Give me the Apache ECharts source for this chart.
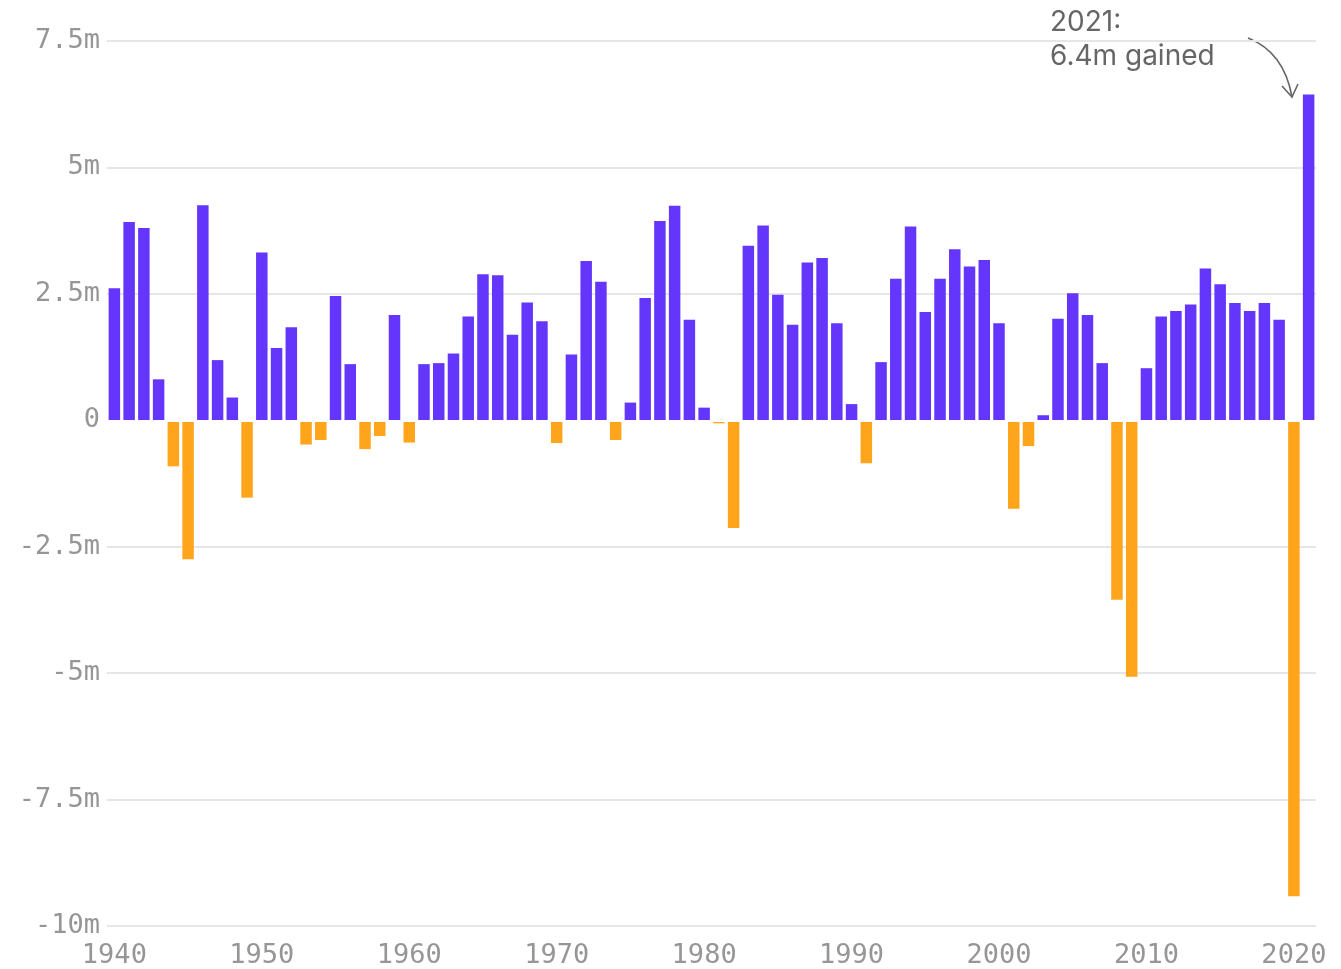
<!DOCTYPE html>
<html>
<head>
<meta charset="utf-8">
<style>
  html, body { margin: 0; padding: 0; background: #fff; }
  #chart { width: 1341px; height: 969px; }
</style>
<script src="https://cdn.jsdelivr.net/npm/echarts@6/dist/echarts.min.js"></script>
</head>
<body>
<div id="chart"></div>
<script>
// yearly change in jobs, millions
const years = [];
for (let y = 1940; y <= 2021; y++) years.push(String(y));

const jobChange = [
  2.61, 3.92, 3.80, 0.81, -0.91, -2.75, 4.25, 1.19, 0.45, -1.53,
  3.32, 1.43, 1.84, -0.48, -0.39, 2.46, 1.11, -0.57, -0.31, 2.08,
  -0.44, 1.11, 1.13, 1.32, 2.05, 2.89, 2.87, 1.69, 2.33, 1.96,
  -0.45, 1.30, 3.15, 2.74, -0.39, 0.35, 2.42, 3.94, 4.24, 1.99,
  0.25, -0.06, -2.13, 3.45, 3.85, 2.48, 1.89, 3.12, 3.21, 1.92,
  0.32, -0.85, 1.15, 2.80, 3.83, 2.14, 2.80, 3.38, 3.04, 3.17,
  1.92, -1.75, -0.51, 0.10, 2.01, 2.51, 2.08, 1.13, -3.55, -5.07,
  1.03, 2.05, 2.16, 2.29, 3.00, 2.69, 2.32, 2.16, 2.32, 1.99,
  -9.41, 6.44
];

const yTicks = { min: -10, max: 7.5, step: 2.5 };
const labelYears = ['1940', '1950', '1960', '1970', '1980', '1990', '2000', '2010', '2020'];

const gainColor = '#6436fb';
const lossColor = '#ffa51c';
const monoFont = '"DejaVu Sans Mono", monospace';

const chart = echarts.init(document.getElementById('chart'));

chart.setOption({
  animation: false,
  grid: { left: 107, right: 25, top: 41, bottom: 41, containLabel: false },
  xAxis: {
    type: 'category',
    data: years,
    z: 10,
    axisLine: { show: true, onZero: true, lineStyle: { color: '#ffffff', width: 2 } },
    axisTick: { show: false },
    splitLine: { show: false },
    axisLabel: {
      interval: (idx, val) => labelYears.includes(val),
      color: '#969696',
      fontFamily: monoFont,
      fontSize: 27,
      margin: 16,
    },
  },
  yAxis: {
    type: 'value',
    min: yTicks.min,
    max: yTicks.max,
    interval: yTicks.step,
    axisLine: { show: false },
    axisTick: { show: false },
    splitLine: { lineStyle: { color: '#e6e6e6', width: 2 } },
    axisLabel: {
      formatter: (v) => (v === 0 ? '0' : v + 'm'),
      color: '#969696',
      fontFamily: monoFont,
      fontSize: 27,
      margin: 7,
    },
  },
  series: [
    {
      type: 'bar',
      data: jobChange,
      barWidth: 11.5,
      itemStyle: {
        color: (p) => (p.value < 0 ? lossColor : gainColor),
      },
    },
  ],
  graphic: [
    {
      type: 'text',
      left: 1050,
      top: 6,
      style: {
        text: '2021:\n6.4m gained',
        fill: '#666666',
        font: '400 28px Inter, "Noto Sans", sans-serif',
        lineHeight: 34,
      },
    },
    {
      type: 'bezierCurve',
      shape: { x1: 1248, y1: 38, cpx1: 1284, cpy1: 52, x2: 1292, y2: 97 },
      style: { stroke: '#666666', lineWidth: 1.6, fill: null },
    },
    {
      type: 'polyline',
      shape: { points: [[1282, 86], [1292, 97], [1298, 84]] },
      style: { stroke: '#666666', lineWidth: 1.6, fill: null },
    },
  ],
});
</script>
</body>
</html>
